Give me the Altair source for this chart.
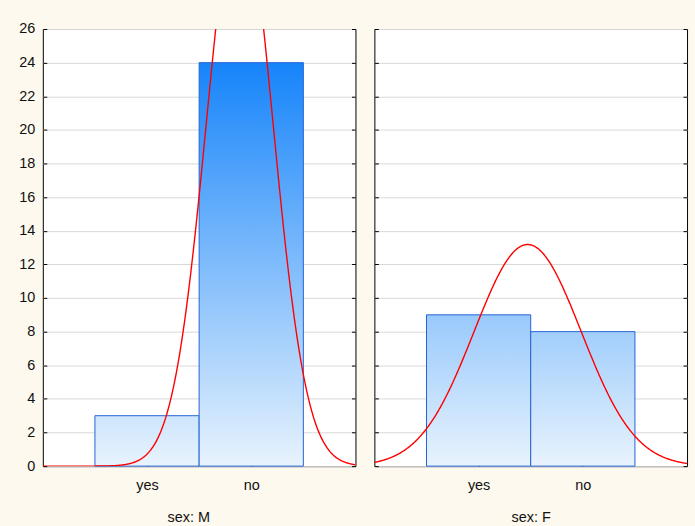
import math

import altair as alt
import numpy as np
import pandas as pd

# Counts per answer, split by sex
categories = ["yes", "no"]
counts_m = [3, 24]
counts_f = [9, 8]
panel_titles = ["sex: M", "sex: F"]
y_ticks = list(range(0, 27, 2))

FONT = "Liberation Sans"
FS = 14.5
BG = "#fdf9ee"
DARK = (22, 132, 250)
LIGHT = (232, 243, 253)
BAR_STROKE = "#2464d4"
VMAX = max(counts_m + counts_f)


def shade(frac):
    return "#%02x%02x%02x" % tuple(
        round(lo + (hi - lo) * frac) for lo, hi in zip(LIGHT, DARK)
    )


def gradient_for(value):
    # colour runs from light at 0 to dark at the tallest bar
    return {
        "gradient": "linear",
        "x1": 0, "y1": 0, "x2": 0, "y2": 1,
        "stops": [
            {"offset": 0, "color": shade(value / VMAX)},
            {"offset": 1, "color": shade(0)},
        ],
    }


def panel(counts, title, show_labels, title_x):
    pos = np.arange(1, len(categories) + 1)
    bars = pd.DataFrame({"cat": categories, "pos": pos, "count": counts})
    bars["x0"] = bars["pos"] - 0.5
    bars["x1"] = bars["pos"] + 0.5
    bars["zero"] = 0

    # fitted normal curve, scaled to counts with bin width 1
    n = sum(counts)
    mean = sum(p * c for p, c in zip(pos, counts)) / n
    var = sum(c * (p - mean) ** 2 for p, c in zip(pos, counts)) / (n - 1)
    sd = math.sqrt(var)
    xs = np.linspace(0, len(categories) + 1, 500)
    dens = n * np.exp(-0.5 * ((xs - mean) / sd) ** 2) / (sd * math.sqrt(2 * math.pi))
    curve = pd.DataFrame({"x": xs, "y": dens})

    xscale = alt.Scale(domain=[0, len(categories) + 1], nice=False, zero=False)
    yscale = alt.Scale(domain=[0, 26], nice=False)

    label_expr = " : ".join(
        f"datum.value == {i + 1} ? '{c}'" for i, c in enumerate(categories[:-1])
    ) + f" : '{categories[-1]}'"

    xaxis = alt.Axis(
        values=[int(p) for p in pos], labelExpr=label_expr, tickSize=4, offset=-4,
        domain=False, grid=False, labelPadding=12, tickColor="black",
        title=title, titleX=title_x, titleY=60, titleBaseline="alphabetic",
        titleFontWeight="normal", titleFontSize=FS, titleFont=FONT,
        titleColor="#111", labelFont=FONT, labelFontSize=FS, labelColor="#111",
    )
    yaxis_left = alt.Axis(
        values=y_ticks, orient="left", tickSize=4, offset=-4, domain=False,
        grid=True, gridColor="#d9d9d9", gridWidth=1, labels=show_labels,
        labelPadding=8, tickColor="black", title=None, labelFont=FONT,
        labelFontSize=FS, labelColor="#111",
    )
    yaxis_right = alt.Axis(
        values=y_ticks, orient="right", tickSize=4, offset=-4, domain=False,
        grid=False, labels=False, tickColor="black", title=None,
    )

    layers = []
    for i, row in bars.iterrows():
        layers.append(
            alt.Chart(bars.iloc[[i]])
            .mark_rect(fill=gradient_for(row["count"]), stroke=BAR_STROKE, strokeWidth=1)
            .encode(
                x=alt.X("x0:Q", scale=xscale, axis=xaxis),
                x2="x1:Q",
                y=alt.Y("count:Q", scale=yscale, axis=yaxis_left if i == 0 else None),
                y2="zero:Q",
            )
        )
    layers.append(
        alt.Chart(curve)
        .mark_line(color="#ff0000", strokeWidth=1.4, clip=True)
        .encode(
            x=alt.X("x:Q", scale=xscale, axis=xaxis),
            y=alt.Y("y:Q", scale=yscale, axis=yaxis_right),
        )
    )
    return (
        alt.layer(*layers)
        .resolve_axis(y="independent")
        .properties(width=314, height=439)
    )


left = panel(counts_m, panel_titles[0], True, 146)
right = panel(counts_f, panel_titles[1], False, 157)

chart = (
    alt.hconcat(left, right, spacing=17)
    .configure(background=BG, padding={"left": 18, "top": 19, "right": 7, "bottom": 3})
    .configure_view(stroke="black", strokeWidth=1, fill="white")
)

chart.save("out.html", embed_options={"renderer": "svg", "actions": False})
